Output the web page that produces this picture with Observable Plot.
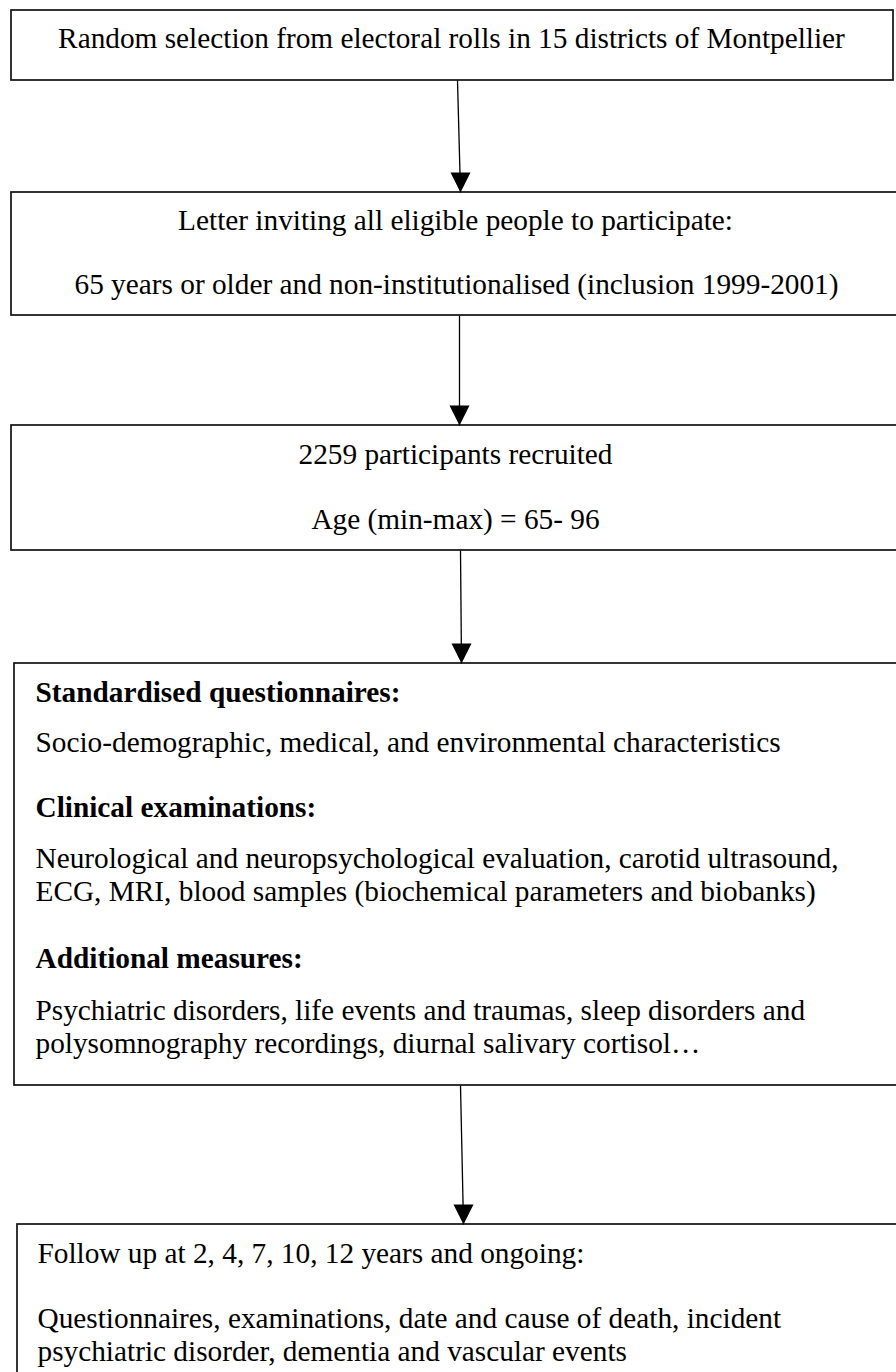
<!DOCTYPE html>
<html>
<head>
<meta charset="utf-8">
<script src="https://cdn.jsdelivr.net/npm/d3@7"></script>
<script src="https://cdn.jsdelivr.net/npm/@observablehq/plot@0.6"></script>
<style>
  html, body { margin: 0; padding: 0; background: #fff; overflow: hidden; }
  #chart svg { display: block; }
</style>
</head>
<body>
<div id="chart"></div>
<script>
// ---- Flowchart content ----
const boxIds     = ["b1", "b2", "b3", "b4", "b5"];
const boxLeft    = [11, 11, 11, 14, 17];
const boxTop     = [10, 192, 425, 663, 1224];
const boxRight   = [893, 902, 902, 902, 902];
const boxBottom  = [80, 315, 550, 1085, 1385];

// arrows: from bottom of one box to top of next
const arrowX1 = [457, 459, 460, 460];
const arrowY1 = [80, 315, 550, 1085];
const arrowX2 = [460, 459, 461, 463];
const arrowY2 = [192, 425, 663, 1224];

// text lines
const lineText = [
  "Random selection from electoral rolls in 15 districts of Montpellier",
  "Letter inviting all eligible people to participate:",
  "65 years or older and non-institutionalised (inclusion 1999-2001)",
  "2259 participants recruited",
  "Age (min-max) = 65- 96",
  "Standardised questionnaires:",
  "Socio-demographic, medical, and environmental characteristics",
  "Clinical examinations:",
  "Neurological and neuropsychological evaluation, carotid ultrasound,",
  "ECG, MRI, blood samples (biochemical parameters and biobanks)",
  "Additional measures:",
  "Psychiatric disorders, life events and traumas, sleep disorders and",
  "polysomnography recordings, diurnal salivary cortisol…",
  "Follow up at 2, 4, 7, 10, 12 years and ongoing:",
  "Questionnaires, examinations, date and cause of death, incident",
  "psychiatric disorder, dementia and vascular events"
];
const lineX = [451, 455, 456, 455, 455, 35, 35, 35, 35, 35, 35, 35, 35, 37, 37, 37];
const lineY = [47, 229, 293, 463, 528, 701, 751, 816, 867, 900, 967, 1019, 1052, 1262, 1327, 1360];
const lineAlign = ["middle","middle","middle","middle","middle",
  "start","start","start","start","start","start","start","start","start","start","start"];
const lineBold = [false,false,false,false,false,
  true,false,true,false,false,true,false,false,false,false,false];

// ---- build tables ----
const boxes = boxIds.map((id, i) => ({id, x1: boxLeft[i], x2: boxRight[i], y1: boxTop[i], y2: boxBottom[i]}));
const arrows = arrowX1.map((x, i) => ({x1: x, y1: arrowY1[i], x2: arrowX2[i], y2: arrowY2[i]}));
const lines = lineText.map((t, i) => ({text: t, x: lineX[i], y: lineY[i], anchor: lineAlign[i], bold: lineBold[i]}));

// filled downward triangle, tip at the origin
const downTriangle = {
  draw(context, size) {
    const r = Math.sqrt(size / Math.PI);
    context.moveTo(0, 0);
    context.lineTo(-r, -2 * r);
    context.lineTo(r, -2 * r);
    context.closePath();
  }
};

const W = 896, H = 1372;
const font = "'Liberation Serif', 'Times New Roman', Times, serif";

const textMarks = [];
for (const anchor of ["middle", "start"]) {
  for (const bold of [false, true]) {
    const subset = lines.filter(d => d.anchor === anchor && d.bold === bold);
    if (!subset.length) continue;
    textMarks.push(Plot.text(subset, {
      x: "x", y: "y", text: "text",
      textAnchor: anchor, lineAnchor: "bottom",
      fontFamily: font, fontSize: 29.3, fontWeight: bold ? "bold" : "normal",
      fill: "#000"
    }));
  }
}

const chart = Plot.plot({
  width: W,
  height: H,
  margin: 0,
  style: {background: "#fff", overflow: "hidden"},
  x: {domain: [0, W], range: [0, W], axis: null},
  y: {domain: [0, H], range: [0, H], axis: null},
  marks: [
    Plot.rect(boxes, {x1: "x1", x2: "x2", y1: "y1", y2: "y2", fill: "none", stroke: "#111", strokeWidth: 1.7}),
    Plot.link(arrows, {x1: "x1", y1: "y1", x2: "x2", y2: "y2", stroke: "#000", strokeWidth: 1.3}),
    Plot.dot(arrows, {x: "x2", y: "y2", symbol: downTriangle, r: 10, fill: "#000", stroke: "none"}),
    ...textMarks
  ]
});

document.getElementById("chart").appendChild(chart);
</script>
</body>
</html>
